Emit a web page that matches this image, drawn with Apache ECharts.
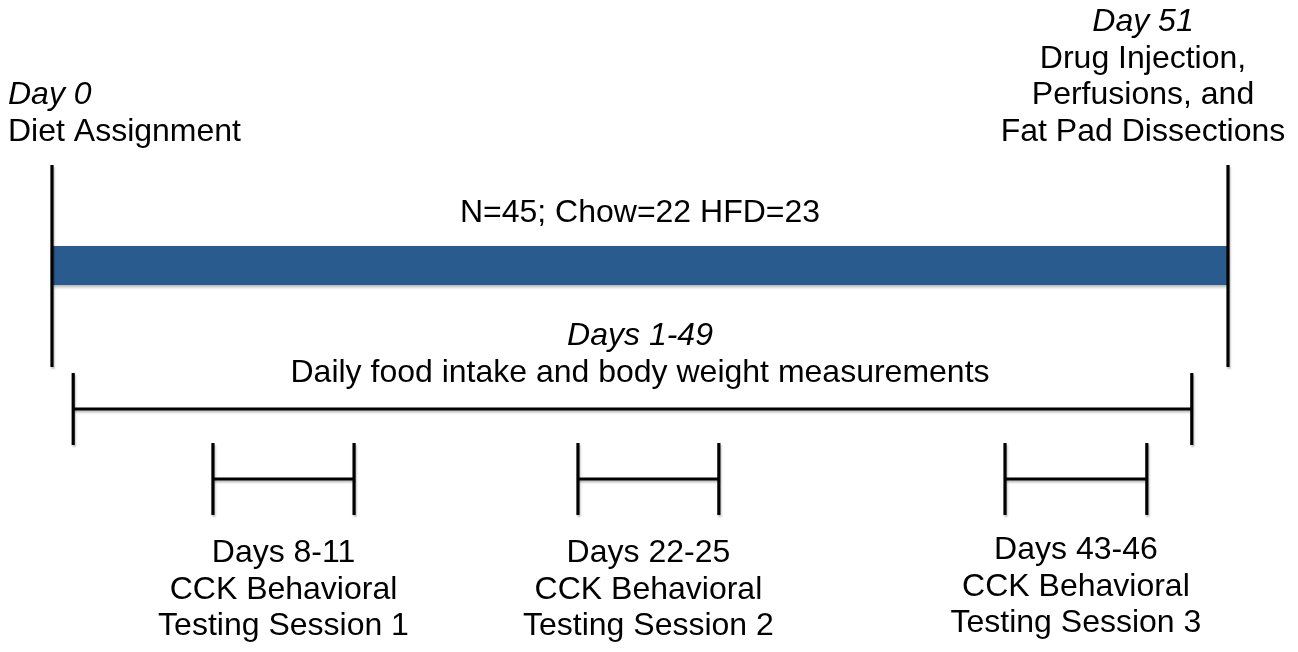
<!DOCTYPE html>
<html>
<head>
<meta charset="utf-8">
<script src="https://cdn.jsdelivr.net/npm/echarts@6/dist/echarts.min.js"></script>
<style>
  html, body { margin: 0; padding: 0; background: #fff; }
  #main { width: 1298px; height: 652px; }
</style>
</head>
<body>
<div id="main"></div>
<script>
// 时间轴数据 (x = study day)
const milestoneDays = [0, 51]
const milestoneTitles = ['Day 0', 'Day 51']
const milestoneNotes = [
  ['Diet Assignment'],
  ['Drug Injection,', 'Perfusions, and', 'Fat Pad Dissections']
]
const studySpan = [0, 51]
const cohortLabel = 'N=45; Chow=22 HFD=23'
const measureSpan = [0.92, 49.43]
const measureTitle = 'Days 1-49'
const measureNote = 'Daily food intake and body weight measurements'
const sessionStart = [6.98, 22.81, 41.33]
const sessionEnd = [13.1, 28.92, 47.48]
const sessionTitles = ['Days 8-11', 'Days 22-25', 'Days 43-46']
const sessionNotes = [
  ['CCK Behavioral', 'Testing Session 1'],
  ['CCK Behavioral', 'Testing Session 2'],
  ['CCK Behavioral', 'Testing Session 3']
]

// layout (vertical rows on a hidden axis, text offsets)
const FONT = '"Liberation Sans", Arial, sans-serif'
const FS = 32
const LH = 36.5
const Y = {
  noteBottom: 150,
  lineTop: 165,
  lineBottom: 367,
  barTop: 246,
  barBottom: 285,
  cohort: 213,
  measureTextTop: 318,
  measureLine: 409,
  measureTick: 36,
  sessionLine: 479,
  sessionTick: 36,
  sessionTextTop: [535, 535, 532]
}
const milestoneDx = [-44, -85]
const milestoneAlign = ['left', 'center']

const rich = {
  i: { fontStyle: 'italic', fontSize: FS, fontFamily: FONT, lineHeight: LH, fill: '#000' },
  n: { fontSize: FS, fontFamily: FONT, lineHeight: LH, fill: '#000' }
}
const lineStyle = {
  stroke: '#000',
  lineWidth: 3.2,
  shadowColor: 'rgba(0,0,0,0.25)',
  shadowBlur: 2,
  shadowOffsetX: 1,
  shadowOffsetY: 2
}

const bracket = (api, x1, x2, yRow, tick) => {
  const p1 = api.coord([x1, yRow])
  const p2 = api.coord([x2, yRow])
  const h = api.size([0, tick])[1]
  return [
    { type: 'line', shape: { x1: p1[0], y1: p1[1], x2: p2[0], y2: p2[1] }, style: lineStyle },
    { type: 'line', shape: { x1: p1[0], y1: p1[1] - h, x2: p1[0], y2: p1[1] + h }, style: lineStyle },
    { type: 'line', shape: { x1: p2[0], y1: p2[1] - h, x2: p2[0], y2: p2[1] + h }, style: lineStyle }
  ]
}

const myChart = echarts.init(document.getElementById('main'))
const option = {
  animation: false,
  grid: { left: 52, right: 70, top: 0, bottom: 0 },
  xAxis: { type: 'value', min: 0, max: 51, show: false },
  yAxis: { type: 'value', min: 0, max: 652, inverse: true, show: false },
  series: [
    {
      name: 'study',
      type: 'custom',
      z: 1,
      clip: false,
      data: [studySpan],
      renderItem: (params, api) => {
        const a = api.coord([api.value(0), Y.barTop])
        const b = api.coord([api.value(1), Y.barBottom])
        const mid = api.coord([(api.value(0) + api.value(1)) / 2, Y.cohort])
        return {
          type: 'group',
          children: [
            {
              type: 'rect',
              shape: { x: a[0], y: a[1], width: b[0] - a[0], height: b[1] - a[1] },
              style: {
                fill: '#295b8e',
                shadowColor: 'rgba(0,0,0,0.3)',
                shadowBlur: 3,
                shadowOffsetY: 2
              }
            },
            {
              type: 'text',
              style: {
                x: mid[0], y: mid[1], text: cohortLabel,
                fontSize: FS, fontFamily: FONT, fill: '#000',
                align: 'center', verticalAlign: 'middle'
              }
            }
          ]
        }
      }
    },
    {
      name: 'milestones',
      type: 'custom',
      z: 3,
      clip: false,
      data: milestoneDays.map((d) => [d]),
      renderItem: (params, api) => {
        const i = params.dataIndex
        const top = api.coord([api.value(0), Y.lineTop])
        const bottom = api.coord([api.value(0), Y.lineBottom])
        const ty = api.coord([0, Y.noteBottom])[1]
        const text = ['{i|' + milestoneTitles[i] + '}']
          .concat(milestoneNotes[i].map((s) => '{n|' + s + '}'))
          .join('\n')
        return {
          type: 'group',
          children: [
            {
              type: 'line',
              shape: { x1: top[0], y1: top[1], x2: bottom[0], y2: bottom[1] },
              style: lineStyle
            },
            {
              type: 'text',
              style: {
                x: top[0] + milestoneDx[i], y: ty, text: text, rich: rich,
                align: milestoneAlign[i], verticalAlign: 'bottom'
              }
            }
          ]
        }
      }
    },
    {
      name: 'measurements',
      type: 'custom',
      z: 2,
      clip: false,
      data: [measureSpan],
      renderItem: (params, api) => {
        const x1 = api.value(0)
        const x2 = api.value(1)
        const c = api.coord([(studySpan[0] + studySpan[1]) / 2, Y.measureTextTop])
        return {
          type: 'group',
          children: bracket(api, x1, x2, Y.measureLine, Y.measureTick).concat([
            {
              type: 'text',
              style: {
                x: c[0], y: c[1],
                text: '{i|' + measureTitle + '}\n{n|' + measureNote + '}',
                rich: rich, align: 'center', verticalAlign: 'top'
              }
            }
          ])
        }
      }
    },
    {
      name: 'sessions',
      type: 'custom',
      z: 2,
      clip: false,
      data: sessionStart.map((s, i) => [s, sessionEnd[i]]),
      renderItem: (params, api) => {
        const i = params.dataIndex
        const x1 = api.value(0)
        const x2 = api.value(1)
        const c = api.coord([(x1 + x2) / 2, Y.sessionTextTop[i]])
        const text = [sessionTitles[i]].concat(sessionNotes[i]).map((s) => '{n|' + s + '}').join('\n')
        return {
          type: 'group',
          children: bracket(api, x1, x2, Y.sessionLine, Y.sessionTick).concat([
            {
              type: 'text',
              style: {
                x: c[0], y: c[1], text: text, rich: rich,
                align: 'center', verticalAlign: 'top'
              }
            }
          ])
        }
      }
    }
  ]
}

myChart.setOption(option)
window.onresize = function () {
  myChart.resize()
}
</script>
</body>
</html>
